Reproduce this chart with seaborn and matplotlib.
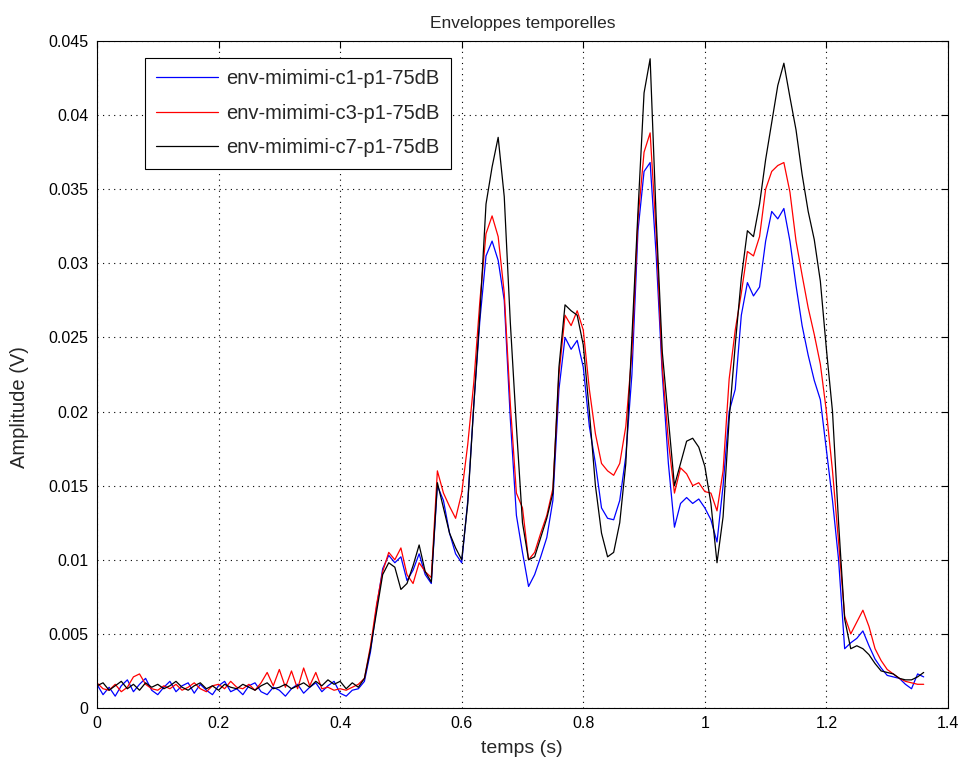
import numpy as np
import pandas as pd
import matplotlib
matplotlib.use("Agg")
import matplotlib.pyplot as plt
import seaborn as sns
from matplotlib.ticker import FormatStrFormatter, MultipleLocator

# time axis (s), one reading every 10 ms
temps = np.round(np.arange(0, 137) * 0.01, 2)

env_c1 = [
    0.0016, 0.0009, 0.0014, 0.0008, 0.0015, 0.0019, 0.0011, 0.0016, 0.0020, 0.0012,
    0.0009, 0.0014, 0.0018, 0.0011, 0.0015, 0.0017, 0.0010, 0.0016, 0.0012, 0.0009,
    0.0015, 0.0018, 0.0011, 0.0013, 0.0009, 0.0015, 0.0017, 0.0011, 0.0009, 0.0014,
    0.0012, 0.0008, 0.0013, 0.0016, 0.0010, 0.0014, 0.0017, 0.0011, 0.0015, 0.0018,
    0.0010, 0.0008, 0.0012, 0.0013, 0.0018, 0.0038, 0.0068, 0.0094, 0.0103, 0.0098,
    0.0102, 0.0086, 0.0093, 0.0104, 0.0090, 0.0084, 0.0150, 0.0140, 0.0118, 0.0104,
    0.0098, 0.0140, 0.0205, 0.0262, 0.0305, 0.0315, 0.0302, 0.0275, 0.0195, 0.0130,
    0.0105, 0.0082, 0.0090, 0.0102, 0.0115, 0.0140, 0.0215, 0.0250, 0.0242, 0.0248,
    0.0230, 0.0190, 0.0165, 0.0135, 0.0128, 0.0127, 0.0140, 0.0170, 0.0225, 0.0322,
    0.0362, 0.0368, 0.0305, 0.0225, 0.0165, 0.0122, 0.0138, 0.0142, 0.0138, 0.0141,
    0.0135, 0.0127, 0.0112, 0.0150, 0.0200, 0.0215, 0.0265, 0.0287, 0.0278, 0.0284,
    0.0315, 0.0335, 0.0330, 0.0337, 0.0315, 0.0285, 0.0258, 0.0238, 0.0221, 0.0208,
    0.0174, 0.0140, 0.0100, 0.0040, 0.0044, 0.0047, 0.0052, 0.0042, 0.0033, 0.0027,
    0.0022, 0.0021, 0.0020, 0.0016, 0.0013, 0.0023, 0.0021,
]

env_c3 = [
    0.0017, 0.0013, 0.0012, 0.0016, 0.0011, 0.0014, 0.0021, 0.0023, 0.0016, 0.0013,
    0.0012, 0.0015, 0.0013, 0.0016, 0.0012, 0.0014, 0.0017, 0.0013, 0.0011, 0.0015,
    0.0016, 0.0013, 0.0018, 0.0014, 0.0013, 0.0016, 0.0012, 0.0017, 0.0024, 0.0015,
    0.0026, 0.0014, 0.0025, 0.0013, 0.0027, 0.0015, 0.0024, 0.0013, 0.0014, 0.0012,
    0.0013, 0.0012, 0.0014, 0.0016, 0.0020, 0.0042, 0.0070, 0.0092, 0.0105, 0.0100,
    0.0108, 0.0090, 0.0084, 0.0098, 0.0092, 0.0088, 0.0160, 0.0145, 0.0136, 0.0128,
    0.0145, 0.0178, 0.0220, 0.0275, 0.0320, 0.0332, 0.0318, 0.0280, 0.0205, 0.0145,
    0.0135, 0.0100, 0.0105, 0.0118, 0.0130, 0.0148, 0.0225, 0.0265, 0.0258, 0.0268,
    0.0255, 0.0215, 0.0185, 0.0165, 0.0160, 0.0157, 0.0165, 0.0190, 0.0240, 0.0330,
    0.0375, 0.0388, 0.0320, 0.0230, 0.0180, 0.0145, 0.0162, 0.0158, 0.0150, 0.0152,
    0.0146, 0.0145, 0.0133, 0.0160, 0.0222, 0.0255, 0.0280, 0.0308, 0.0305, 0.0318,
    0.0350, 0.0362, 0.0366, 0.0368, 0.0348, 0.0315, 0.0292, 0.0270, 0.0252, 0.0232,
    0.0200, 0.0160, 0.0112, 0.0062, 0.0050, 0.0058, 0.0066, 0.0055, 0.0040, 0.0032,
    0.0026, 0.0023, 0.0020, 0.0018, 0.0017, 0.0016, 0.0016,
]

env_c7 = [
    0.0015, 0.0017, 0.0012, 0.0015, 0.0018, 0.0013, 0.0016, 0.0012, 0.0017, 0.0014,
    0.0016, 0.0013, 0.0015, 0.0018, 0.0014, 0.0012, 0.0015, 0.0017, 0.0013, 0.0015,
    0.0012, 0.0016, 0.0014, 0.0013, 0.0016, 0.0014, 0.0012, 0.0015, 0.0017, 0.0013,
    0.0014, 0.0016, 0.0013, 0.0015, 0.0017, 0.0014, 0.0018, 0.0015, 0.0019, 0.0016,
    0.0018, 0.0013, 0.0017, 0.0014, 0.0020, 0.0040, 0.0065, 0.0090, 0.0098, 0.0095,
    0.0080, 0.0084, 0.0096, 0.0110, 0.0092, 0.0085, 0.0152, 0.0135, 0.0118, 0.0108,
    0.0100, 0.0138, 0.0205, 0.0266, 0.0340, 0.0365, 0.0385, 0.0345, 0.0260, 0.0190,
    0.0125, 0.0100, 0.0102, 0.0115, 0.0128, 0.0145, 0.0230, 0.0272, 0.0268, 0.0265,
    0.0245, 0.0200, 0.0150, 0.0118, 0.0102, 0.0105, 0.0125, 0.0165, 0.0250, 0.0335,
    0.0415, 0.0438, 0.0330, 0.0240, 0.0195, 0.0150, 0.0165, 0.0180, 0.0182, 0.0176,
    0.0163, 0.0138, 0.0098, 0.0129, 0.0195, 0.0245, 0.0290, 0.0322, 0.0318, 0.0340,
    0.0370, 0.0395, 0.0420, 0.0435, 0.0412, 0.0390, 0.0360, 0.0335, 0.0316, 0.0288,
    0.0242, 0.0200, 0.0125, 0.0060, 0.0040, 0.0042, 0.0040, 0.0036, 0.0030, 0.0025,
    0.0024, 0.0023, 0.0020, 0.0019, 0.0019, 0.0021, 0.0024,
]

labels = ["env-mimimi-c1-p1-75dB", "env-mimimi-c3-p1-75dB", "env-mimimi-c7-p1-75dB"]
colors = ["#0000ff", "#ff0000", "#000000"]

df = pd.concat([
    pd.DataFrame({"temps": temps, "amp": vals, "serie": lab})
    for vals, lab in zip([env_c1, env_c3, env_c7], labels)
])

sns.set_style("white")
plt.rcParams["font.family"] = ["Liberation Sans", "DejaVu Sans"]

fig = plt.figure(figsize=(9.6, 7.69), dpi=100)
ax = fig.add_axes([0.101, 0.0793, 0.8865, 0.8674])

sns.lineplot(data=df, x="temps", y="amp", hue="serie", palette=colors,
             estimator=None, sort=False, linewidth=0.9, ax=ax)

ax.set_xlim(0, 1.4)
ax.set_ylim(0, 0.045)
ax.xaxis.set_major_locator(MultipleLocator(0.2))
ax.yaxis.set_major_locator(MultipleLocator(0.005))
ax.xaxis.set_major_formatter(FormatStrFormatter("%g"))
ax.yaxis.set_major_formatter(FormatStrFormatter("%g"))
ax.grid(True, color="black", linestyle=(0, (1, 4)), linewidth=0.8)
ax.tick_params(direction="in", length=5, width=0.8, top=True, right=True,
               labelsize=11.5, colors="black", pad=6)
for sp in ax.spines.values():
    sp.set_color("black")
    sp.set_linewidth(0.8)

ax.set_title("Enveloppes temporelles", fontsize=12.5, pad=9)
ax.set_xlabel("temps (s)", fontsize=14, va="center")
ax.set_ylabel("Amplitude (V)", fontsize=14.5, va="center")
ax.xaxis.set_label_coords(0.4995, -0.06)
ax.yaxis.set_label_coords(-0.0905, 0.451)

leg = ax.legend(loc="upper left", bbox_to_anchor=(0.0564, 0.9745), fontsize=14.5,
                frameon=True, fancybox=False, edgecolor="black", framealpha=1,
                handlelength=3.1, handletextpad=0.4, labelspacing=0.78,
                borderpad=0.55, borderaxespad=0)
leg.get_frame().set_linewidth(0.8)

fig.savefig("out.png", dpi=100, facecolor="white")
